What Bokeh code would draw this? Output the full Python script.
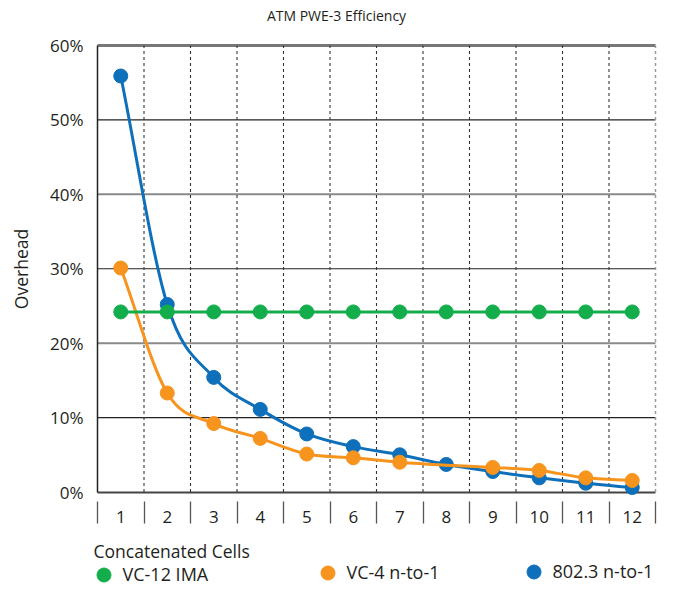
from bokeh.plotting import figure
from bokeh.models import (Range1d, FixedTicker, LinearAxis, Legend, LegendItem,
                          Label, PrintfTickFormatter, ColumnDataSource)
from bokeh.embed import file_html
from bokeh.resources import INLINE

# ---------------- data ----------------
cells = [1, 2, 3, 4, 5, 6, 7, 8, 9, 10, 11, 12]
cell_labels = ["1", "2", "3", "4", "5", "6", "7", "8", "9", "10", "11", "12"]
vc12_ima = [24.2, 24.2, 24.2, 24.2, 24.2, 24.2, 24.2, 24.2, 24.2, 24.2, 24.2, 24.2]
vc4_n_to_1 = [30.1, 13.3, 9.2, 7.2, 5.1, 4.6, 4.0, 3.6, 3.3, 2.9, 1.9, 1.55]
vc4_marker_shown = [True, True, True, True, True, True, True, False, True, True, True, True]
e8023_n_to_1 = [55.9, 25.2, 15.4, 11.1, 7.8, 6.1, 5.0, 3.7, 2.75, 1.9, 1.18, 0.6]
y_ticks = [0, 10, 20, 30, 40, 50, 60]
series_names = ["VC-12 IMA", "VC-4 n-to-1", "802.3 n-to-1"]
title_text = "ATM PWE-3 Efficiency"
x_title = "Concatenated Cells"
y_title = "Overhead"

FONT = "Open Sans"
TXT = "#231f20"
GREEN = "#13AE4B"
ORANGE = "#F7941E"
BLUE = "#0E6FBA"

W, H = 657, 587                      # canvas size
PLOT_L, PLOT_R = 97, 655             # plot box in canvas pixels
PLOT_T, PLOT_B = 45, 491.5

boundaries = [cells[0] - 0.5] + [c + 0.5 for c in cells]
xpx = (PLOT_R - PLOT_L) / (boundaries[-1] - boundaries[0])
ypx = (PLOT_B - PLOT_T) / (y_ticks[-1] - y_ticks[0])

p = figure(width=W, height=H,
           x_range=Range1d(boundaries[0] - PLOT_L / xpx, boundaries[-1] + (W - PLOT_R) / xpx),
           y_range=Range1d(y_ticks[0] - (H - PLOT_B) / ypx, y_ticks[-1] + PLOT_T / ypx),
           x_axis_type=None, y_axis_type=None,
           output_backend="svg", toolbar_location=None,
           min_border=0, min_border_left=0, min_border_right=0,
           min_border_top=0, min_border_bottom=0,
           outline_line_color=None, background_fill_color="white", border_fill_color="white")

# ---------------- grid lines (bounded to the plot box) ----------------
xb0, xb1 = boundaries[0], boundaries[-1]
dark_h = y_ticks[1::2]          # 10, 30, 50
gray_h = y_ticks[2:-1:2]        # 20, 40
top_h = y_ticks[-1:]            # 60
p.segment(x0=[xb0] * len(dark_h), x1=[xb1] * len(dark_h), y0=dark_h, y1=dark_h,
          line_color="#222222", line_width=1.2)
p.segment(x0=[xb0] * len(gray_h), x1=[xb1] * len(gray_h), y0=gray_h, y1=gray_h,
          line_color="#8a8a8a", line_width=2)
p.segment(x0=[xb0], x1=[xb1], y0=top_h, y1=top_h, line_color="#777777", line_width=3)

inner = boundaries[1:-1]
p.segment(x0=inner, x1=inner, y0=[y_ticks[0]] * len(inner), y1=[y_ticks[-1]] * len(inner),
          line_color="#333333", line_width=1.1, line_dash="3 3")
p.segment(x0=[xb1], x1=[xb1], y0=[y_ticks[0]], y1=[y_ticks[-1]],
          line_color="#999999", line_width=1.5, line_dash="3 3")

# ---------------- axes (fixed inside the canvas) ----------------
yaxis = LinearAxis(ticker=FixedTicker(ticks=y_ticks), fixed_location=xb0,
                   bounds=(y_ticks[0], y_ticks[-1]),
                   formatter=PrintfTickFormatter(format="%d%%"),
                   axis_label=y_title, axis_label_text_font=FONT,
                   axis_label_text_font_size="17.5px", axis_label_text_font_style="normal",
                   axis_label_text_color=TXT, axis_label_standoff=14,
                   major_tick_in=0, major_tick_out=0, minor_tick_in=0, minor_tick_out=0,
                   major_label_standoff=14, major_label_text_font=FONT,
                   major_label_text_font_size="17px", major_label_text_color=TXT,
                   axis_line_color="#222222", axis_line_width=1.5)
p.add_layout(yaxis, "left")

xaxis = LinearAxis(ticker=FixedTicker(ticks=cells, minor_ticks=boundaries),
                   fixed_location=y_ticks[0], bounds=(xb0, xb1), level="underlay",
                   major_label_overrides={c: l for c, l in zip(cells, cell_labels)},
                   major_tick_in=0, major_tick_out=0, major_tick_line_color=None,
                   minor_tick_in=-9, minor_tick_out=31,
                   minor_tick_line_color="#555555", minor_tick_line_width=1.3,
                   axis_line_color="#444444", axis_line_width=2,
                   major_label_standoff=-12, major_label_text_font=FONT,
                   major_label_text_font_size="17px", major_label_text_color=TXT)
p.add_layout(xaxis, "below")


# ---------------- smooth lines (Catmull-Rom as Bezier segments) ----------------
def bezier_source(xs, ys):
    px = [2 * xs[0] - xs[1]] + list(xs) + [2 * xs[-1] - xs[-2]]
    py = [2 * ys[0] - ys[1]] + list(ys) + [2 * ys[-1] - ys[-2]]
    d = dict(x0=[], y0=[], x1=[], y1=[], cx0=[], cy0=[], cx1=[], cy1=[])
    for j in range(1, len(xs)):
        d["x0"].append(px[j]); d["y0"].append(py[j])
        d["x1"].append(px[j + 1]); d["y1"].append(py[j + 1])
        d["cx0"].append(px[j] + (px[j + 1] - px[j - 1]) / 6)
        d["cy0"].append(py[j] + (py[j + 1] - py[j - 1]) / 6)
        d["cx1"].append(px[j + 1] - (px[j + 2] - px[j]) / 6)
        d["cy1"].append(py[j + 1] - (py[j + 2] - py[j]) / 6)
    return ColumnDataSource(d)


BZ = dict(x0="x0", y0="y0", x1="x1", y1="y1", cx0="cx0", cy0="cy0", cx1="cx1", cy1="cy1")

# 802.3 (blue) - bottom layer
p.bezier(source=bezier_source(cells, e8023_n_to_1), line_color=BLUE, line_width=3,
         line_cap="round", **BZ)
r_blue = p.scatter(cells, e8023_n_to_1, size=14, fill_color=BLUE, line_color=BLUE)

# VC-4 (orange)
p.bezier(source=bezier_source(cells, vc4_n_to_1), line_color=ORANGE, line_width=3,
         line_cap="round", **BZ)
ox = [c for c, s in zip(cells, vc4_marker_shown) if s]
oy = [v for v, s in zip(vc4_n_to_1, vc4_marker_shown) if s]
r_orange = p.scatter(ox, oy, size=14, fill_color=ORANGE, line_color=ORANGE)

# VC-12 IMA (green) - top layer
p.line(cells, vc12_ima, line_color=GREEN, line_width=3)
r_green = p.scatter(cells, vc12_ima, size=14, fill_color=GREEN, line_color=GREEN)

# ---------------- texts ----------------
p.add_layout(Label(x=336, y=H - 15, x_units="screen", y_units="screen", text=title_text,
                   text_align="center", text_baseline="middle", text_font=FONT,
                   text_font_size="14px", text_color=TXT))
p.add_layout(Label(x=93, y=H - 550, x_units="screen", y_units="screen", text=x_title,
                   text_align="left", text_baseline="middle", text_font=FONT,
                   text_font_size="17.5px", text_color=TXT))

# ---------------- legends ----------------
legend_pos = [(85.5, -4.5), (309.5, -2.5), (515.5, -1.5)]
for name, rend, loc in zip(series_names, [r_green, r_orange, r_blue], legend_pos):
    lg = Legend(items=[LegendItem(label=name, renderers=[rend])], location=loc,
                orientation="horizontal", padding=0, margin=0, spacing=0,
                border_line_color=None, background_fill_alpha=0,
                glyph_width=35, glyph_height=35, label_standoff=2,
                label_text_font=FONT, label_text_font_size="18px", label_text_color=TXT)
    p.add_layout(lg, "center")

open("out.html", "w").write(file_html(p, INLINE))
